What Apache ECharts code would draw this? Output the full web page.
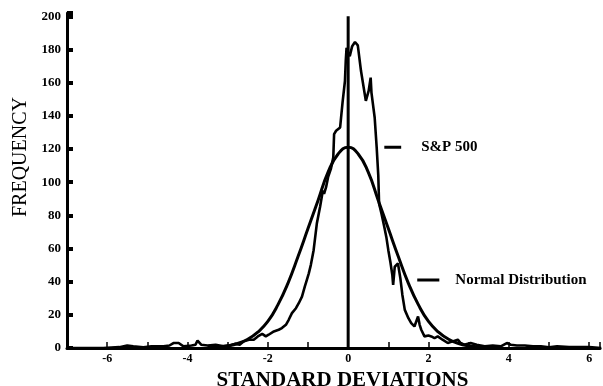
<!DOCTYPE html>
<html>
<head>
<meta charset="utf-8">
<script src="https://cdn.jsdelivr.net/npm/echarts@6/dist/echarts.min.js"></script>
<style>html,body{margin:0;padding:0;background:#fff;}#c{width:603px;height:386px;}</style>
</head>
<body>
<div id="c"></div>
<script>
// ---- data ----
var spX = [-6.9,-6.1,-5.7,-5.5,-5.35,-5.1,-4.9,-4.6,-4.45,-4.35,-4.22,-4.1,-3.9,-3.8,-3.75,-3.66,-3.5,-3.3,-3.1,-2.95,-2.8,-2.7,-2.6,-2.47,-2.35,-2.25,-2.14,-2.05,-1.98,-1.85,-1.73,-1.65,-1.55,-1.48,-1.4,-1.3,-1.23,-1.15,-1.08,-1.03,-0.98,-0.93,-0.86,-0.78,-0.7,-0.63,-0.6,-0.55,-0.5,-0.43,-0.37,-0.35,-0.3,-0.2,-0.14,-0.08,-0.06,-0.04,0.0,0.04,0.1,0.17,0.24,0.32,0.44,0.48,0.51,0.56,0.58,0.66,0.71,0.75,0.77,0.83,0.9,0.95,1.0,1.05,1.1,1.12,1.16,1.24,1.3,1.35,1.41,1.5,1.57,1.65,1.74,1.78,1.82,1.9,2.0,2.07,2.15,2.23,2.35,2.48,2.6,2.73,2.8,2.89,3.05,3.2,3.4,3.6,3.8,3.95,4.05,4.2,4.4,4.6,4.8,5.0,5.2,5.5,5.8,6.0,6.3];
var spY = [0,0,0.5,1.5,1,0.5,1,1,1.5,3,3,1,1.5,2,4.5,2,1.5,2,1,1.5,2.5,2,4,5,5,7,8.5,7,8,10,11,12,14,17,21,24,27,31,37,41,45,50,59,75,85,95,93,97,103,108,115,129,131,133,148,161,173,181,178,176,182,184.5,182.5,167,149,150,155,163,154,139,121,104,87,81,73,67,59,52,44,38,49,51,42,32,23,18,15,13,19,14,11,7,7.5,7,6,7,5,3,4,5,3,2,3,2,1,1.5,1,3,2,1.5,1.5,1,1,0.5,1,0.5,0.5,0.5,0];
var normX = [-3.5,-3.25,-3,-2.75,-2.5,-2.25,-2,-1.75,-1.5,-1.25,-1,-0.75,-0.5,-0.25,0,0.25,0.5,0.75,1,1.25,1.5,1.75,2,2.25,2.5,2.75,3,3.25,3.5];
var normY = [0.3,0.6,1.3,2.7,5.3,9.6,16,26,39,55,72,89,106,117,121,117,106,89,72,55,39,26,16,9.6,5.3,2.7,1.3,0.6,0.3];
var seriesNames = ['S&P 500','Normal Distribution'];
var xTitle = 'STANDARD DEVIATIONS';
var yTitle = 'FREQUENCY';

var serif = "Liberation Serif";
function pairs(xs, ys){ return xs.map(function(x,i){ return [x, ys[i]]; }); }
var labelFont = {color:'#000', fontFamily:serif, fontWeight:'bold', fontSize:15};

var chart = echarts.init(document.getElementById('c'), null, {renderer:'canvas'});
chart.setOption({
  animation:false,
  backgroundColor:'#fff',
  textStyle:{fontFamily:serif, color:'#000'},
  grid:{left:67, right:3, top:13, bottom:38, containLabel:false, outerBoundsMode:'none'},
  xAxis:{
    type:'value', min:-7, max:6.27, interval:1, z:10,
    axisLine:{show:true, onZero:false, lineStyle:{color:'#000', width:3, opacity:1}},
    axisTick:{show:true, inside:true, length:6, lineStyle:{color:'#000', width:1.5, opacity:1}},
    axisLabel:{show:true, margin:5, color:'#000', fontFamily:serif, fontWeight:'bold', fontSize:12,
      formatter:function(v){ return (v % 2 === 0) ? String(v) : ''; }},
    splitLine:{show:false},
    name:xTitle, nameLocation:'middle', nameGap:8,
    nameTextStyle:{color:'#000', fontFamily:serif, fontWeight:'bold', fontSize:21, padding:[0,0,0,18], verticalAlign:'top'}
  },
  yAxis:{
    type:'value', min:0, max:202, interval:20, position:'left', z:10,
    axisLine:{show:true, onZero:false, lineStyle:{color:'#000', width:3, opacity:1}},
    axisTick:{show:true, inside:true, length:6, lineStyle:{color:'#000', width:4, opacity:1}},
    axisLabel:{show:true, margin:6, color:'#000', fontFamily:serif, fontWeight:'bold', fontSize:13,
      formatter:function(v){ return v>200?'':String(v); }},
    splitLine:{show:false},
    name:yTitle, nameLocation:'middle', nameRotate:90, nameGap:35,
    nameTextStyle:{color:'#000', fontFamily:serif, fontSize:20, padding:[0,0,0,47]}
  },
  series:[{
    name:seriesNames[0], type:'line', data:pairs(spX, spY), symbol:'none',
    lineStyle:{color:'#000', width:2.6}, z:3
  },{
    name:seriesNames[1], type:'line', data:pairs(normX, normY), smooth:true, symbol:'none',
    lineStyle:{color:'#000', width:3}, z:2
  },{
    name:'zero', type:'line', data:[[0,0],[0,200]], symbol:'none',
    lineStyle:{color:'#000', width:3}, z:4, silent:true
  },{
    name:'sp-key', type:'line', data:[[0.9,121],[1.32,121]], symbol:'none',
    lineStyle:{color:'#000', width:3}, z:4, silent:true,
    endLabel:Object.assign({show:true, distance:20, formatter:seriesNames[0]}, labelFont)
  },{
    name:'norm-key', type:'line', data:[[1.72,41],[2.27,41]], symbol:'none',
    lineStyle:{color:'#000', width:3}, z:4, silent:true,
    endLabel:Object.assign({show:true, distance:16, formatter:seriesNames[1]}, labelFont)
  }]
});
</script>
</body>
</html>
